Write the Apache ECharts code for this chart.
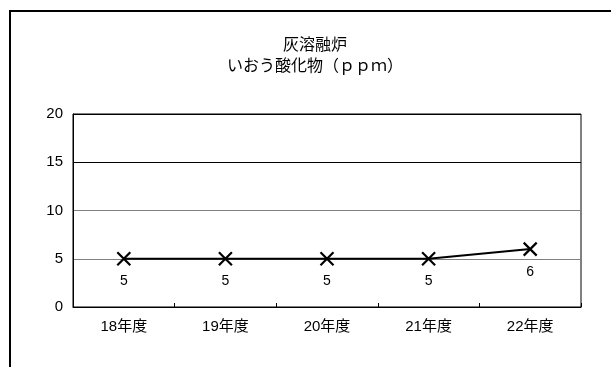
<!DOCTYPE html>
<html>
<head>
<meta charset="utf-8">
<script src="https://cdn.jsdelivr.net/npm/echarts@6/dist/echarts.min.js"></script>
<style>
  html, body { margin: 0; padding: 0; background: #fff; }
  #chart { width: 611px; height: 367px; }
</style>
</head>
<body>
<div id="chart"></div>
<script>
// Fiscal years and measured sulfur oxide concentration (ppm)
const categories = ['18年度', '19年度', '20年度', '21年度', '22年度'];
const values = [5, 5, 5, 5, 6];
const yTicks = { min: 0, max: 20, interval: 5 };
const titleLine1 = '灰溶融炉';
const titleLine2 = 'いおう酸化物（ｐｐｍ）';

const FONT = '"Liberation Sans", "Noto Sans CJK JP", sans-serif';

const chart = echarts.init(document.getElementById('chart'), null, { renderer: 'canvas' });

chart.setOption({
  backgroundColor: '#fff',
  animation: false,
  title: {
    text: '{a|' + titleLine1 + '}\n{b|' + titleLine2 + '}',
    left: 310,
    top: 31,
    textAlign: 'center',
    textStyle: {
      fontFamily: FONT,
      fontWeight: 'normal',
      color: '#000',
      rich: {
        a: { fontFamily: FONT, fontSize: 16, lineHeight: 20, color: '#000', align: 'center' },
        b: { fontFamily: FONT, fontSize: 16, lineHeight: 21, color: '#000', align: 'center' }
      }
    }
  },
  graphic: [{
    type: 'rect',
    shape: { x: 10, y: 11, width: 640, height: 400 },
    style: { fill: 'none', stroke: '#000', lineWidth: 2 },
    silent: true,
    z: 100
  }],
  grid: {
    left: 73,
    right: 30,
    top: 114,
    bottom: 60,
    show: true,
    borderColor: '#000',
    borderWidth: 1,
    backgroundColor: '#fff'
  },
  xAxis: {
    type: 'category',
    data: categories,
    boundaryGap: true,
    axisLine: { show: true, lineStyle: { color: '#000', width: 1 } },
    axisTick: { show: true, inside: true, length: 4, alignWithLabel: false, lineStyle: { color: '#000' } },
    axisLabel: { color: '#000', fontFamily: FONT, fontSize: 15, margin: 12 },
    splitLine: { show: false }
  },
  yAxis: {
    type: 'value',
    min: yTicks.min,
    max: yTicks.max,
    interval: yTicks.interval,
    axisLine: { show: true, lineStyle: { color: '#000' } },
    axisTick: { show: false },
    axisLabel: { color: '#000', fontFamily: FONT, fontSize: 15, margin: 10 },
    splitLine: {
      show: true,
      lineStyle: { color: ['#000', '#808080', '#808080', '#000', '#000'], width: 1 }
    }
  },
  series: [{
    type: 'line',
    data: values,
    symbol: 'path://M0,0L10,10M10,0L0,10',
    symbolSize: 13,
    showAllSymbol: true,
    lineStyle: { color: '#000', width: 2 },
    itemStyle: { color: '#000', borderColor: '#000', borderWidth: 2.2 },
    label: {
      show: true,
      position: 'bottom',
      distance: 8,
      color: '#000',
      fontFamily: FONT,
      fontSize: 14
    },
    z: 5
  }]
});
</script>
</body>
</html>
